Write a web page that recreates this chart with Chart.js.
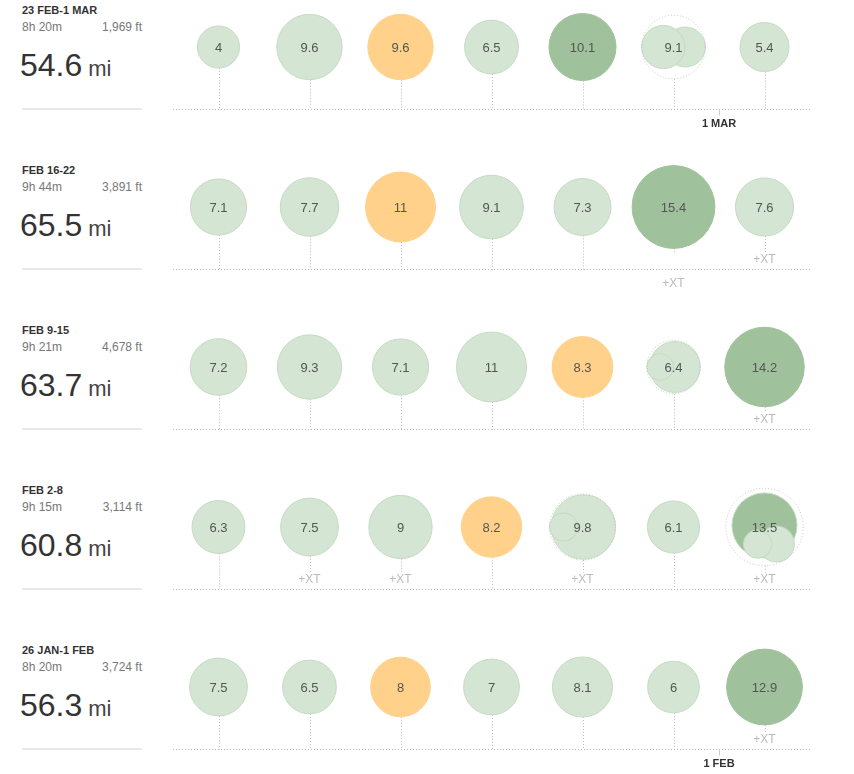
<!DOCTYPE html>
<html>
<head>
<meta charset="utf-8">
<script src="https://cdn.jsdelivr.net/npm/chart.js@4"></script>
<style>
  body { margin: 0; background: #fff; font-family: "Liberation Sans", Arial, sans-serif; overflow: hidden; }
  .week { position: absolute; left: 0; width: 854px; height: 160px; }
  .week canvas { position: absolute; left: 150px; top: 0; }
  .title { position: absolute; left: 22px; top: 4px; font-size: 11px; line-height: 12px; font-weight: bold; color: #333; }
  .stats { position: absolute; left: 22px; top: 20px; width: 120px; font-size: 12px; line-height: 14px; color: #777; display: flex; justify-content: space-between; }
  .dist { position: absolute; left: 20px; top: 47px; font-size: 32px; line-height: 36px; color: #333; white-space: nowrap; }
  .dist span { font-size: 22px; color: #444; margin-left: 6px; }
  .rule { position: absolute; left: 22px; top: 108px; width: 120px; height: 2px; background: #e9e9e9; }
</style>
</head>
<body>
<div id="log"></div>
<script>
// weekly summary
const weekLabels = ['23 FEB-1 MAR', 'FEB 16-22', 'FEB 9-15', 'FEB 2-8', '26 JAN-1 FEB'];
const weekTimes = ['8h 20m', '9h 44m', '9h 21m', '9h 15m', '8h 20m'];
const weekClimb = ['1,969 ft', '3,891 ft', '4,678 ft', '3,114 ft', '3,724 ft'];
const weekMiles = [54.6, 65.5, 63.7, 60.8, 56.3];

// miles per day, Mon..Sun
const dayMiles = [
  [4, 9.6, 9.6, 6.5, 10.1, 9.1, 5.4],
  [7.1, 7.7, 11, 9.1, 7.3, 15.4, 7.6],
  [7.2, 9.3, 7.1, 11, 8.3, 6.4, 14.2],
  [6.3, 7.5, 9, 8.2, 9.8, 6.1, 13.5],
  [7.5, 6.5, 8, 7, 8.1, 6, 12.9]
];
// E = easy, W = workout, L = long run
const dayKind = [
  ['E', 'E', 'W', 'E', 'L', 'E', 'E'],
  ['E', 'E', 'W', 'E', 'E', 'L', 'E'],
  ['E', 'E', 'E', 'E', 'W', 'E', 'L'],
  ['E', 'E', 'E', 'W', 'E', 'E', 'L'],
  ['E', 'E', 'W', 'E', 'E', 'E', 'L']
];
// cross training on top of the run
const dayXT = [
  [0, 0, 0, 0, 0, 0, 0],
  [0, 0, 0, 0, 0, 1, 1],
  [0, 0, 0, 0, 0, 0, 1],
  [0, 1, 1, 0, 1, 0, 1],
  [0, 0, 0, 0, 0, 0, 1]
];

// days with more than one run
const splitWeek = [0, 2, 3, 3];
const splitDay = [5, 5, 4, 6];
const splitRuns = [[3.6, 4.2], [5.8, 1.6], [9.3, 1.8], [9.5, 2.9, 1.8]];
const splitKinds = [['E', 'E'], ['E', 'E'], ['E', 'E'], ['L', 'E', 'E']];

// first day of a month
const monthWeek = [0, 4];
const monthDay = [6, 6];
const monthLabels = ['1 MAR', '1 FEB'];

// ---- styles ----
const KIND_FILL = { E: '#d4e5d3', W: '#ffd18a', L: '#9fc19b' };
const KIND_EDGE = { E: '#c3dcc0', W: '#ffd18a', L: '#9fc19b' };
// [angle deg, pull] of each sub run inside the day's outline
const splitPlacement = [
  [[0, 1], [180, 1]],
  [[0, 1], [180, 1]],
  [[0, 1], [180, 1]],
  [[270, 0.25], [55, 1], [112, 0.75]]
];
const R_PER_SQRT_MILE = 10.55;
const ROW_H = 160;

function radius(mi) { return R_PER_SQRT_MILE * Math.sqrt(mi); }

function splitIndex(w, d) {
  for (let i = 0; i < splitWeek.length; i++) {
    if (splitWeek[i] === w && splitDay[i] === d) return i;
  }
  return -1;
}

function kindOf(c) { return c.raw && c.raw.kind ? c.raw.kind : 'E'; }

function buildWeek(w) {
  const row = document.createElement('div');
  row.className = 'week';
  row.style.top = (w * ROW_H) + 'px';
  row.innerHTML =
    '<div class="title">' + weekLabels[w] + '</div>' +
    '<div class="stats"><span>' + weekTimes[w] + '</span><span>' + weekClimb[w] + '</span></div>' +
    '<div class="dist">' + weekMiles[w] + '<span>mi</span></div>' +
    '<div class="rule"></div>';
  const canvas = document.createElement('canvas');
  canvas.width = 704;
  canvas.height = ROW_H;
  row.appendChild(canvas);
  document.getElementById('log').appendChild(row);

  const singles = [], subs = [], outlines = [];
  dayMiles[w].forEach((mi, d) => {
    const s = splitIndex(w, d);
    if (s < 0) {
      singles.push({ x: d, y: 1, r: radius(mi), kind: dayKind[w][d] });
    } else {
      outlines.push({ x: d, y: 1, r: radius(mi) });
      splitRuns[s].forEach((run, j) => {
        subs.push({
          x: d, y: 1, r: radius(run), kind: splitKinds[s][j],
          angle: splitPlacement[s][j][0], pull: splitPlacement[s][j][1], outer: radius(mi)
        });
      });
    }
  });

  const decor = {
    id: 'decor',
    afterDatasetsUpdate(chart) {
      const meta = chart.getDatasetMeta(1);
      const pts = chart.data.datasets[1].data;
      meta.data.forEach((el, i) => {
        const p = pts[i];
        const dist = p.pull * (p.outer - p.r);
        const a = p.angle * Math.PI / 180;
        el.x += dist * Math.cos(a);
        el.y += dist * Math.sin(a);
      });
    },
    beforeDatasetDraw(chart, args) {
      if (args.index === 2) chart.ctx.setLineDash([1, 2]);
    },
    afterDatasetDraw(chart, args) {
      if (args.index === 2) chart.ctx.setLineDash([]);
    },
    beforeDatasetsDraw(chart) {
      const ctx = chart.ctx, xs = chart.scales.x, ys = chart.scales.y;
      const base = Math.round(ys.getPixelForValue(0)) + 0.5;
      const mid = ys.getPixelForValue(1);
      ctx.save();
      ctx.strokeStyle = '#b8b8b8';
      ctx.lineWidth = 1;
      ctx.setLineDash([1, 2]);
      ctx.beginPath();
      ctx.moveTo(xs.left, base);
      ctx.lineTo(xs.right, base);
      ctx.stroke();
      dayMiles[w].forEach((mi, d) => {
        const x = Math.round(xs.getPixelForValue(d)) + 0.5;
        const top = mid + radius(mi);
        let end = base;
        if (dayXT[w][d] && base - top >= 21) end = base - 17;
        ctx.beginPath();
        ctx.moveTo(x, top);
        ctx.lineTo(x, end);
        ctx.stroke();
      });
      ctx.setLineDash([]);
      ctx.strokeStyle = '#cccccc';
      monthWeek.forEach((mw, i) => {
        if (mw !== w) return;
        const x = Math.round(xs.getPixelForValue(monthDay[i] - 0.5)) + 0.5;
        ctx.beginPath();
        ctx.moveTo(x, base);
        ctx.lineTo(x, base + 6);
        ctx.stroke();
      });
      ctx.restore();
    },
    afterDatasetsDraw(chart) {
      const ctx = chart.ctx, xs = chart.scales.x, ys = chart.scales.y;
      const base = ys.getPixelForValue(0);
      const mid = ys.getPixelForValue(1);
      ctx.save();
      ctx.textAlign = 'center';
      ctx.textBaseline = 'middle';
      dayMiles[w].forEach((mi, d) => {
        const x = xs.getPixelForValue(d);
        ctx.font = '13px "Liberation Sans", Arial, sans-serif';
        ctx.fillStyle = '#555';
        ctx.fillText(String(mi), x, mid + 1);
        if (dayXT[w][d]) {
          const top = mid + radius(mi);
          ctx.font = '12px "Liberation Sans", Arial, sans-serif';
          ctx.fillStyle = '#bbbbbb';
          ctx.fillText('+XT', x, base - top >= 21 ? base - 9 : base + 15);
        }
      });
      monthWeek.forEach((mw, i) => {
        if (mw !== w) return;
        ctx.font = 'bold 11px "Liberation Sans", Arial, sans-serif';
        ctx.fillStyle = '#333';
        ctx.fillText(monthLabels[i], xs.getPixelForValue(monthDay[i] - 0.5), base + 15);
      });
      ctx.restore();
    }
  };

  new Chart(canvas, {
    type: 'bubble',
    data: {
      datasets: [
        {
          label: 'runs', data: singles, order: 2, clip: false,
          backgroundColor: c => KIND_FILL[kindOf(c)],
          borderColor: c => KIND_EDGE[kindOf(c)],
          borderWidth: 1
        },
        {
          label: 'split runs', data: subs, order: 1, clip: false,
          backgroundColor: c => KIND_FILL[kindOf(c)],
          borderColor: '#c3dcc0',
          borderWidth: 1
        },
        {
          label: 'day total', data: outlines, order: 0, clip: false,
          backgroundColor: 'rgba(0,0,0,0)',
          borderColor: '#c4c4c4',
          borderWidth: 1
        }
      ]
    },
    options: {
      responsive: false,
      animation: false,
      events: [],
      layout: { autoPadding: false, padding: { left: 23, right: 44, top: 47, bottom: 51 } },
      scales: {
        x: { type: 'linear', min: -0.5, max: 6.5, display: false },
        y: { type: 'linear', min: 0, max: 1, display: false }
      },
      plugins: { legend: { display: false }, tooltip: { enabled: false } }
    },
    plugins: [decor]
  });
}

weekLabels.forEach((_, w) => buildWeek(w));
</script>
</body>
</html>
